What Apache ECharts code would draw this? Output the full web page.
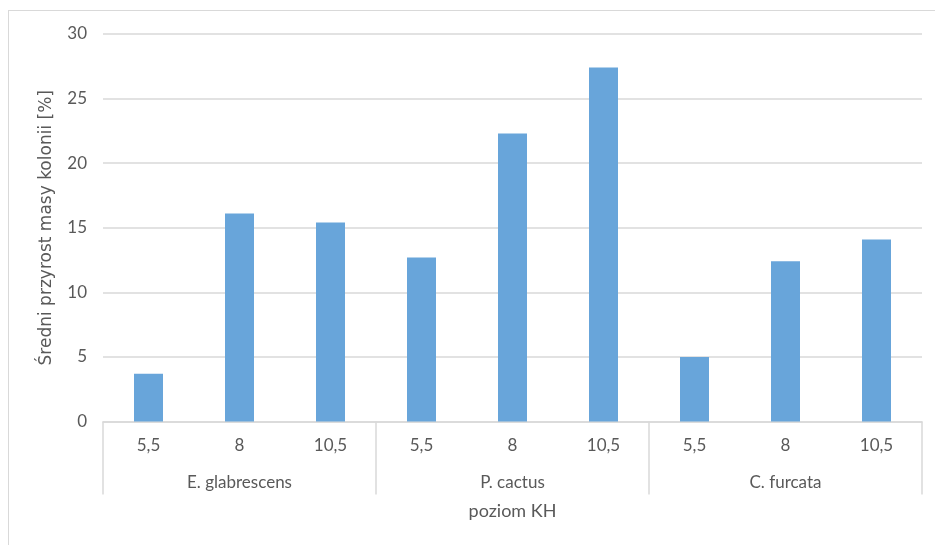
<!DOCTYPE html>
<html>
<head>
<meta charset="utf-8">
<script src="https://cdn.jsdelivr.net/npm/echarts@6/dist/echarts.min.js"></script>
<style>
html,body{margin:0;padding:0;background:#fff;}
#border{position:absolute;left:8px;top:10px;width:940px;height:560px;border:1px solid #d9d9d9;box-sizing:border-box;}
#c{position:absolute;left:0;top:0;width:935px;height:545px;}
</style>
</head>
<body>
<div id="border"></div>
<div id="c"></div>
<script>
const khLevels = ['5,5','8','10,5','5,5','8','10,5','5,5','8','10,5'];
const species = ['E. glabrescens','P. cactus','C. furcata'];
const values = [3.7, 16.1, 15.4, 12.7, 22.3, 27.4, 5.0, 12.4, 14.1];
const yTicks = [0, 5, 10, 15, 20, 25, 30];
const yTitle = 'Średni przyrost masy kolonii [%]';
const xTitle = 'poziom KH';

const font = 'Lato';
const txt = '#595959';
const chart = echarts.init(document.getElementById('c'), null, {renderer:'canvas'});
chart.setOption({
  animation:false,
  backgroundColor:'transparent',
  grid:{left:103, right:13, top:34, bottom:123.5, containLabel:false},
  xAxis:[{
    type:'category', data:khLevels, position:'bottom',
    axisLine:{show:true, lineStyle:{color:'#d9d9d9', width:1.5}},
    axisTick:{show:false},
    axisLabel:{color:txt, fontFamily:font, fontSize:17, margin:16, interval:0}
  },{
    type:'category', data:species, position:'bottom', gridIndex:0,
    axisLine:{show:false},
    axisTick:{show:true, length:73, lineStyle:{color:'#d9d9d9', width:1.5}},
    axisLabel:{color:txt, fontFamily:font, fontSize:17, margin:53, interval:0},
    name:xTitle, nameLocation:'middle', nameGap:81,
    nameTextStyle:{color:txt, fontFamily:font, fontSize:18}
  }],
  yAxis:{
    type:'value', min:0, max:30, interval:5,
    axisLine:{show:false}, axisTick:{show:false},
    axisLabel:{color:txt, fontFamily:font, fontSize:17, margin:16,
      formatter:v => yTicks.includes(v) ? String(v) : ''},
    splitLine:{lineStyle:{color:'#d9d9d9', width:1.5}},
    name:yTitle, nameLocation:'middle', nameGap:48,
    nameTextStyle:{color:txt, fontFamily:'DejaVu Sans', fontSize:17}
  },
  series:[{
    type:'bar', data:values, xAxisIndex:0, barWidth:29,
    itemStyle:{color:'#68a5da'}
  }]
});
</script>
</body>
</html>
